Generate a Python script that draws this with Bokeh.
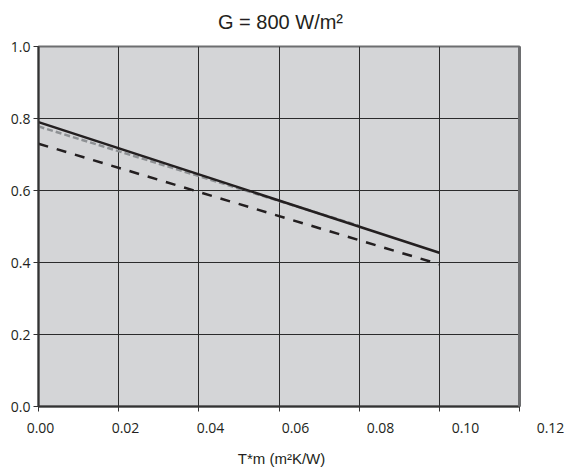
from bokeh.plotting import figure
from bokeh.models import (Range1d, ColumnDataSource, FixedTicker, CustomJSTickFormatter,
                          PrintfTickFormatter, LinearAxis)
from bokeh.core.properties import value
from bokeh.embed import file_html
from bokeh.resources import INLINE

# ---- data ----
x_ticks = [0.00, 0.02, 0.04, 0.06, 0.08, 0.10, 0.12]
x_tick_labels = ["0.00", "0.02", "0.04", "0.06", "0.08", "0.10", "0.12"]
y_ticks = [0.0, 0.2, 0.4, 0.6, 0.8, 1.0]

x_solid = [0.0, 0.10]
y_solid = [0.790, 0.427]
x_dash = [0.0, 0.10]
y_dash = [0.730, 0.395]
x_gray = [0.0, 0.08]
y_gray = [0.778, 0.502]

title_text = "G = 800 W/m\u00b2"
x_title = "T*m (m\u00b2K/W)"

INK = "#231f20"
W = 566


def strip(height):
    f = figure(width=W, height=height, output_backend="svg", toolbar_location=None,
               x_range=Range1d(-40 / 4250, (W - 40) / 4250), y_range=Range1d(0, height),
               x_axis_location=None, y_axis_location=None,
               min_border_left=0, min_border_right=0, min_border_top=0, min_border_bottom=0)
    f.grid.visible = False
    f.outline_line_color = None
    f.background_fill_color = "white"
    f.border_fill_color = "white"
    return f


# ---- title strip ----
H0 = 34
p0 = strip(H0)
p0.text(x=[(280 - 40) / 4250], y=[13], text=[title_text],
        text_align="center", text_baseline="middle",
        text_font=value("Liberation Sans"), text_font_size="20px", text_color=INK)

# ---- main chart ----
p = figure(width=W, height=384, output_backend="svg", toolbar_location=None,
           x_range=Range1d(0, 0.12), y_range=Range1d(0, 1.0),
           min_border_left=38, min_border_right=47, min_border_top=12, min_border_bottom=12)

p.background_fill_color = "#d4d5d7"
p.border_fill_color = "white"
p.outline_line_color = "#6d6e70"
p.outline_line_width = 2

p.xgrid.ticker = FixedTicker(ticks=x_ticks)
p.ygrid.ticker = FixedTicker(ticks=y_ticks)
for g in (p.xgrid, p.ygrid):
    g.grid_line_color = "#2b2b2b"
    g.grid_line_width = 1
    g.grid_line_alpha = 1.0

xa = p.xaxis[0]
xa.ticker = FixedTicker(ticks=x_ticks)
xa.formatter = CustomJSTickFormatter(code="return ''")
xa.major_label_text_font_size = "1px"
xa.major_label_standoff = 0
xa.major_tick_out = 5
xa.major_tick_in = 0
xa.minor_tick_out = 0
xa.minor_tick_in = 0
xa.axis_line_color = "#333333"
xa.axis_line_width = 2
xa.major_tick_line_color = "#333333"

ya = p.yaxis[0]
ya.ticker = FixedTicker(ticks=y_ticks)
ya.formatter = PrintfTickFormatter(format="%.1f")
ya.major_tick_out = 5
ya.major_tick_in = 0
ya.minor_tick_out = 0
ya.minor_tick_in = 0
ya.axis_line_color = "#333333"
ya.axis_line_width = 2
ya.major_tick_line_color = "#333333"
ya.major_label_text_font = "Open Sans"
ya.major_label_text_font_size = "14px"
ya.major_label_text_color = INK
ya.major_label_standoff = 3

# thick grey right edge of the plot area
ra = LinearAxis(ticker=FixedTicker(ticks=[]), axis_line_color="#6d6e70", axis_line_width=3,
                major_tick_line_color=None, minor_tick_line_color=None,
                major_label_text_font_size="1px",
                formatter=CustomJSTickFormatter(code="return ''"))
p.add_layout(ra, "right")

p.line(x_gray, y_gray, line_color="#8e9194", line_width=2.5, line_dash="6 3")
p.line(x_dash, y_dash, line_color=INK, line_width=2.5, line_dash="10 9")
p.line(x_solid, y_solid, line_color=INK, line_width=2.5)

# ---- strip below: x tick labels (offset to the right as in the original) + axis title ----
H2 = 52
p2 = strip(H2)
lab_src = ColumnDataSource(dict(x=x_ticks, y=[43] * len(x_ticks), text=x_tick_labels))
p2.text(x="x", y="y", text="text", source=lab_src,
        text_align="center", text_baseline="middle",
        text_font=value("Open Sans"), text_font_size="14px", text_color=INK)

p2.text(x=[(281 - 40) / 4250], y=[12], text=[x_title],
        text_align="center", text_baseline="middle",
        text_font=value("Liberation Sans"), text_font_size="15px", text_color=INK)

open("out.html", "w").write(file_html([p0, p, p2], INLINE))
